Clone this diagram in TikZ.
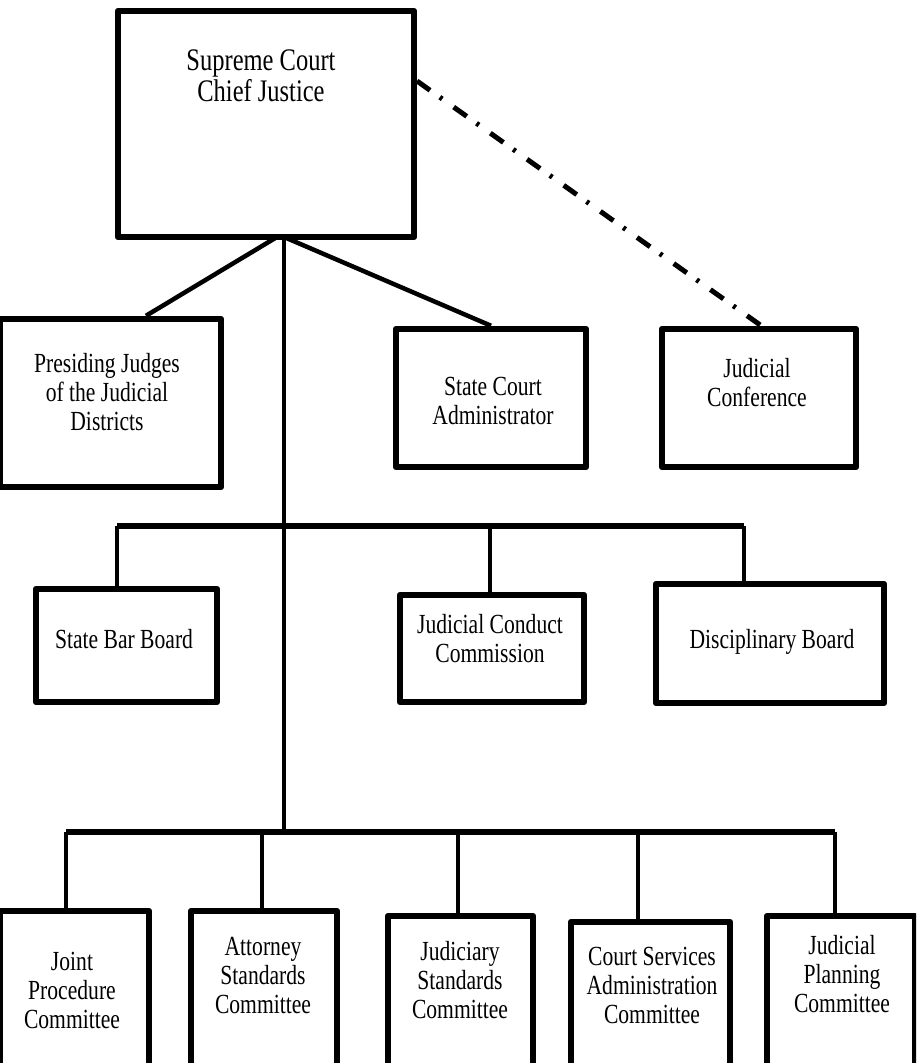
\documentclass[tikz,border=0pt]{standalone}
\usepackage{fontspec}
\setmainfont{Liberation Serif}
\newcommand\boxtext[1]{\scalebox{1}[1.28]{\begin{tabular}{@{}c@{}}#1\end{tabular}}}
\tikzset{
  box/.style={draw, line width=6.5pt, line join=round, inner sep=0pt, rectangle},
  lbl/.style={inner sep=0pt, font=\fontsize{21.6}{22.6}\selectfont},
  biglbl/.style={inner sep=0pt, font=\fontsize{24.5}{21.9}\selectfont},
  conn/.style={line width=4.5pt},
  bus/.style={line width=5.5pt},
  ddot/.style={line width=5pt, dash pattern=on 16pt off 12pt on 3pt off 14pt}
}
\begin{document}
\begin{tikzpicture}[x=1pt,y=-1pt]
\useasboundingbox (0,0) rectangle (916,1063);
\clip (0,0) rectangle (916,1063);
% boxes
\node[box, minimum width=296pt, minimum height=226pt] (top) at (266,124) {};
\node[box, minimum width=221pt, minimum height=168pt] (pres) at (110.5,403) {};
\node[box, minimum width=190pt, minimum height=138pt] (sca) at (491,398) {};
\node[box, minimum width=194pt, minimum height=138pt] (jc) at (759,398) {};
\node[box, minimum width=181pt, minimum height=113pt] (sbb) at (126.5,645.5) {};
\node[box, minimum width=184pt, minimum height=107pt] (jcc) at (492,648.5) {};
\node[box, minimum width=228pt, minimum height=119pt] (db) at (770,643.5) {};
\node[box, minimum width=149pt, minimum height=189pt] (jp) at (74.5,1005.5) {};
\node[box, minimum width=146pt, minimum height=189pt] (as) at (264,1005.5) {};
\node[box, minimum width=145pt, minimum height=184pt] (js) at (460.5,1008) {};
\node[box, minimum width=159pt, minimum height=178pt] (csa) at (650.5,1011) {};
\node[box, minimum width=148pt, minimum height=184pt] (jpc) at (841,1008) {};
% labels
\node[biglbl] (tTop) at (261,80) {\boxtext{Supreme Court\\Chief Justice}};
\node[lbl] (tPres) at (107,395.5) {\boxtext{Presiding Judges\\of the Judicial\\Districts}};
\node[lbl] (tSca) at (493,404) {\boxtext{State Court\\Administrator}};
\node[lbl] (tJc) at (757,386) {\boxtext{Judicial\\Conference}};
\node[lbl] (tSbb) at (124,643) {\boxtext{State Bar Board}};
\node[lbl] (tJcc) at (490,642) {\boxtext{Judicial Conduct\\Commission}};
\node[lbl] (tDb) at (772,643) {\boxtext{Disciplinary Board}};
\node[lbl] (tJp) at (72,994) {\boxtext{Joint\\Procedure\\Committee}};
\node[lbl] (tAs) at (263,979) {\boxtext{Attorney\\Standards\\Committee}};
\node[lbl] (tJs) at (460,984) {\boxtext{Judiciary\\Standards\\Committee}};
\node[lbl] (tCsa) at (652,989) {\boxtext{Court Services\\Administration\\Committee}};
\node[lbl] (tJpc) at (842,978) {\boxtext{Judicial\\Planning\\Committee}};
% coordinates
\coordinate (ta) at (284,237);
\coordinate (tl) at (277,237);
\coordinate (b1) at (284,526);
\coordinate (b2) at (284,832);
\coordinate (d1a) at (117,526);
\coordinate (d1b) at (490,526);
\coordinate (d1c) at (744,526);
\coordinate (d2a) at (66,832);
\coordinate (d2b) at (262,832);
\coordinate (d2c) at (458,832);
\coordinate (d2d) at (638,832);
\coordinate (d2e) at (835,832);
\coordinate (ds) at (417,81);
\coordinate (de) at (763,327);
% connectors
\draw[conn] (tl) -- (146,0 |- pres.north);
\draw[conn] (ta) -- (sca.north);
\draw[conn] (ta) -- (b2);
\draw[ddot] (ds) -- (de);
\draw[bus] (d1a) -- (d1c);
\draw[conn] (d1a) -- (d1a |- sbb.north);
\draw[conn] (d1b) -- (d1b |- jcc.north);
\draw[conn] (d1c) -- (d1c |- db.north);
\draw[bus] (d2a) -- (d2e);
\draw[conn] (d2a) -- (d2a |- jp.north);
\draw[conn] (d2b) -- (d2b |- as.north);
\draw[conn] (d2c) -- (d2c |- js.north);
\draw[conn] (d2d) -- (d2d |- csa.north);
\draw[conn] (d2e) -- (d2e |- jpc.north);
\end{tikzpicture}
\end{document}
